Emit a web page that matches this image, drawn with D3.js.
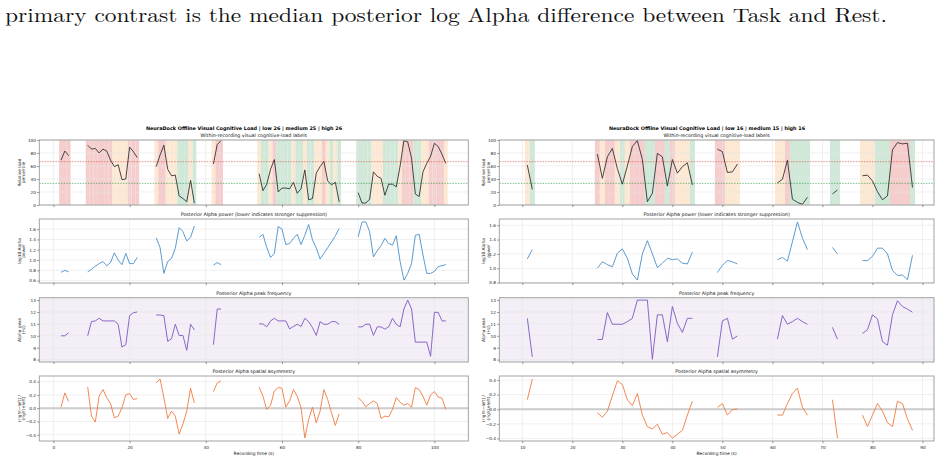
<!DOCTYPE html>
<html><head><meta charset="utf-8">
<script src="https://cdn.jsdelivr.net/npm/d3@7"></script>
<style>html,body{margin:0;padding:0;background:#fff}svg{display:block}</style>
</head><body>
<svg id="c" width="941" height="461"></svg>
<script>
// ---------------- data ----------------
const introText = "primary contrast is the median posterior log Alpha difference between Task and Rest.";
const suptitleLeft = "NeuraDock Offline Visual Cognitive Load | low 26 | medium 25 | high 26";
const suptitleRight = "NeuraDock Offline Visual Cognitive Load | low 16 | medium 15 | high 16";
const panelTitles = ["Within-recording visual cognitive-load labels",
  "Posterior Alpha power (lower indicates stronger suppression)",
  "Posterior Alpha peak frequency",
  "Posterior Alpha spatial asymmetry"];
const panelYLabels = [["Relative load", "percentile"], ["log10 Alpha", "power"], ["Alpha peak", "(Hz)"], ["(right\u2212left) /", "(right+left)"]];
const xLabel = "Recording time (s)";
const loadThresholds = [33.33, 66.67];
const labelNames = ["low", "medium", "high"];

const leftTime = [2,3,4, 9,10,11,12,13,14,15,16,17,18,19,20,21,22, 27,28,29,30,31,32,33,34,35,36,37, 42,43,44,
  54,55,56,57,58,59,60,61,62,63,64,65,66,67,68,69,70,71,72,73,74,75,
  80,81,82,83,84,85,86,87,88,89,90,91,92,93,94,95,96,97,98,99,100,101,102,103];
const leftLoad = [69,83,76, 92,86,87,80,86,83,69,59,62,39,40,89,82,73, 59,77,92,55,45,46,14,10,5,38,3, 63,93,99,
  48,22,32,55,70,20,26,26,25,35,18,25,54,8,10,49,59,67,37,31,35,5,
  19,3,3,9,51,44,41,15,32,32,28,60,99,97,72,17,13,51,64,75,95,90,78,64];
const leftPower = [0.76,0.80,0.77, 0.77,0.82,0.88,0.93,0.97,0.89,0.95,1.14,1.00,0.91,1.13,0.93,0.93,1.05,
  1.43,1.24,0.74,0.97,1.03,1.23,1.63,1.55,1.37,1.44,1.66, 0.90,0.95,0.91,
  1.44,1.50,1.24,1.05,1.13,1.65,1.60,1.30,1.32,1.42,1.50,1.30,1.48,1.69,1.39,1.23,1.02,1.13,1.24,1.35,1.47,1.61,
  1.45,1.74,1.74,1.55,1.06,1.18,1.28,1.42,1.32,1.29,1.47,0.97,0.61,0.74,0.93,1.48,1.50,1.10,0.74,0.74,0.78,0.87,0.89,0.91];
const leftPeak = [10.0,10.0,10.25, 10.0,11.2,11.25,11.47,11.25,11.25,11.25,11.25,10.97,9.06,9.25,11.69,11.94,12.0,
  11.75,11.75,11.69,9.53,9.75,10.97,10.03,10.03,8.78,10.97,10.5, 9.25,12.25,12.25,
  11.0,11.0,10.75,11.25,11.47,11.25,11.25,11.25,10.58,10.78,10.97,10.78,11.47,11.19,10.69,10.03,11.19,10.97,10.97,11.19,11.19,10.97,
  10.75,10.75,10.97,10.97,10.03,10.75,10.75,10.56,10.75,11.47,10.97,10.75,12.25,13.0,12.25,9.47,9.47,9.47,9.47,8.28,11.97,11.97,11.25,11.25];
const leftAsym = [0.015,0.23,0.10, 0.32,-0.12,-0.21,0.18,0.28,0.16,0.07,-0.145,-0.12,0.006,0.20,0.22,0.13,0.146,
  0.38,0.44,0.16,-0.155,-0.045,-0.12,-0.39,-0.24,-0.045,0.30,0.08, 0.25,0.38,0.41,
  0.32,0.18,-0.02,0.045,0.26,0.31,0.30,0.015,0.11,0.28,0.18,0.006,-0.45,-0.17,0.015,-0.22,-0.045,0.28,0.13,-0.07,-0.26,-0.085,
  0.16,0.10,0.02,0.07,0.11,0.07,-0.155,-0.12,-0.13,-0.02,0.16,0.09,0.045,0.07,0.015,0.31,0.28,0.18,0.045,0.20,0.25,0.17,0.15,-0.02];

const rightTime = [11,12, 25,26,27,28,29,30,31,32,33,34,35,36,37,38,39,40,41,42,43,44,
  49,50,51,52,53, 61,62,63,64,65,66,67, 72,73, 78,79,80,81,82,83,84,85,86,87,88];
const rightLoad = [61.5,24, 78.5,41,74,87,56,32,60,90,99,70,5,18,79.5,74,29,70,49,59,65,31,
  86,82,50,51,63, 34,39.5,69,9,4,1,12, 17,23, 45,46,37,20.5,8,14,85,96,94,95,27];
const rightPower = [1.13,1.26, 1.00,1.09,1.05,1.02,1.21,1.27,1.14,0.92,0.835,1.20,1.385,1.20,1.01,1.07,1.14,1.12,1.13,1.07,1.06,1.225,
  0.94,1.04,1.11,1.09,1.06, 1.12,1.15,1.10,1.37,1.646,1.42,1.26, 1.29,1.20,
  1.11,1.105,1.165,1.28,1.28,1.20,0.97,0.90,0.905,0.84,1.18];
const rightPeak = [11.47,8.23, 9.69,9.69,11.95,10.97,10.97,10.97,11.19,11.47,13.0,13.0,13.0,8.03,11.76,11.76,9.5,12.46,11.05,10.29,11.47,11.47,
  8.23,11.25,11.47,9.72,9.98, 9.72,11.7,10.97,11.19,11.47,11.19,10.97, 10.71,9.72,
  10.2,10.51,11.76,11.42,9.5,9.21,11.76,12.94,12.46,12.24,11.98];
const rightAsym = [0.13,0.415, -0.048,-0.11,-0.027,0.183,0.39,0.34,0.13,0.046,0.215,-0.08,-0.238,-0.27,-0.206,-0.343,-0.32,-0.395,-0.343,-0.29,-0.08,0.11,
  0.025,0.078,-0.08,-0.006,0.004, -0.08,-0.08,0.078,0.215,0.288,0.025,-0.08, 0.13,-0.395,
  -0.08,-0.238,-0.08,0.078,-0.027,-0.185,-0.238,0.11,0.078,-0.132,-0.29];

const leftXTicks = [0,20,40,60,80,100];
const rightXTicks = [10,20,30,40,50,60,70,80,90];
const loadTicks = [0,20,40,60,80,100];
const leftPowerTicks = [0.6,0.8,1.0,1.2,1.4,1.6];
const rightPowerTicks = [0.8,1.0,1.2,1.4,1.6];
const peakTicks = [8,9,10,11,12,13];
const leftAsymTicks = [-0.4,-0.2,0.0,0.2,0.4];
const rightAsymTicks = [-0.4,-0.2,0.0,0.2,0.4];

// ---------------- drawing ----------------
const FONT = "'DejaVu Sans', sans-serif";
const svg = d3.select("#c");
const bandColor = {low: "#cfe8d7", medium: "#fde8d3", high: "#f5cdcd"};
const lineColors = ["#333333", "#4a90cc", "#7e57c2", "#f07b3f"];
const panelY = [[140, 205], [219, 283], [297.7, 362], [376, 441]];

svg.append("text").attr("x", 5).attr("y", 22)
  .attr("font-family", "'Latin Modern Roman','Liberation Serif','DejaVu Serif',serif")
  .attr("font-size", 19.5).attr("textLength", 882).attr("lengthAdjust", "spacingAndGlyphs")
  .attr("fill", "#111").text(introText);

function padded(arr) {
  const [mn, mx] = d3.extent(arr); const d = (mx - mn) * 0.05; return [mn - d, mx + d];
}
function labelOf(v) { return v > loadThresholds[1] ? labelNames[2] : (v >= loadThresholds[0] ? labelNames[1] : labelNames[0]); }
function fmt(v, dec) { const s = v.toFixed(dec); return s.replace("-", "\u2212"); }

function drawFigure(cfg) {
  const g = svg.append("g");
  const x = d3.scaleLinear().domain(cfg.xDomain).range([cfg.x0, cfg.x1]);
  const cx = (cfg.x0 + cfg.x1) / 2;
  g.append("text").attr("x", cfg.titleX).attr("y", 129.6).attr("text-anchor", "middle")
    .attr("font-family", FONT).attr("font-weight", "bold").attr("font-size", 4.9).attr("fill", "#000").text(cfg.suptitle);

  const segs = []; let cur = [];
  cfg.time.forEach((t, i) => {
    if (cur.length && t - cfg.time[cur[cur.length - 1]] > 1.5) { segs.push(cur); cur = []; }
    cur.push(i);
  });
  segs.push(cur);

  const panels = [
    {vals: cfg.load, domain: [0, 100], ticks: loadTicks, dec: 0, bg: "#ffffff"},
    {vals: cfg.power, domain: padded(cfg.power), ticks: cfg.powerTicks, dec: 1, bg: "#ffffff"},
    {vals: cfg.peak, domain: [7.8, 13.2], ticks: peakTicks, dec: 0, bg: "#f4eff7"},
    {vals: cfg.asym, domain: padded(cfg.asym), ticks: cfg.asymTicks, dec: 1, bg: "#ffffff"}
  ];

  panels.forEach((p, k) => {
    const [top, bot] = panelY[k];
    const y = d3.scaleLinear().domain(p.domain).range([bot, top]);
    const pg = g.append("g");
    pg.append("rect").attr("x", cfg.x0).attr("y", top).attr("width", cfg.x1 - cfg.x0).attr("height", bot - top).attr("fill", p.bg);
    if (k === 0) {
      pg.selectAll("rect.band").data(cfg.time).enter().append("rect").attr("class", "band")
        .attr("x", t => x(t - 0.5)).attr("width", t => x(t + 0.5) - x(t - 0.5))
        .attr("y", y(100)).attr("height", y(0) - y(100))
        .attr("fill", (t, i) => bandColor[labelOf(cfg.load[i])]);
    }
    pg.selectAll("line.gx").data(cfg.xTicks).enter().append("line")
      .attr("x1", d => x(d)).attr("x2", d => x(d)).attr("y1", top).attr("y2", bot)
      .attr("stroke", "#e6e6e6").attr("stroke-width", 0.6);
    pg.selectAll("line.gy").data(p.ticks.filter(d => y(d) >= top && y(d) <= bot)).enter().append("line")
      .attr("x1", cfg.x0).attr("x2", cfg.x1).attr("y1", d => y(d)).attr("y2", d => y(d))
      .attr("stroke", "#e6e6e6").attr("stroke-width", 0.6);
    if (k === 0) {
      pg.append("line").attr("x1", cfg.x0).attr("x2", cfg.x1).attr("y1", y(loadThresholds[1])).attr("y2", y(loadThresholds[1]))
        .attr("stroke", "#e06060").attr("stroke-width", 0.7).attr("stroke-dasharray", "1.5,1.2");
      pg.append("line").attr("x1", cfg.x0).attr("x2", cfg.x1).attr("y1", y(loadThresholds[0])).attr("y2", y(loadThresholds[0]))
        .attr("stroke", "#40a060").attr("stroke-width", 0.7).attr("stroke-dasharray", "1.5,1.2");
    }
    if (k === 3) {
      pg.append("line").attr("x1", cfg.x0).attr("x2", cfg.x1).attr("y1", y(0)).attr("y2", y(0))
        .attr("stroke", "#cccccc").attr("stroke-width", 2);
    }
    const line = d3.line().x(i => x(cfg.time[i])).y(i => y(p.vals[i]));
    pg.selectAll("path.seg").data(segs).enter().append("path")
      .attr("d", line).attr("fill", "none").attr("stroke", lineColors[k]).attr("stroke-width", 0.9)
      .attr("stroke-linejoin", "round");
    pg.append("rect").attr("x", cfg.x0).attr("y", top).attr("width", cfg.x1 - cfg.x0).attr("height", bot - top)
      .attr("fill", "none").attr("stroke", "#9a9a9a").attr("stroke-width", 0.9);
    const ay = pg.append("g").attr("transform", `translate(${cfg.x0},0)`)
      .call(d3.axisLeft(y).tickValues(p.ticks.filter(d => y(d) >= top - 0.5 && y(d) <= bot + 0.5))
        .tickSize(2.2).tickPadding(1.2).tickFormat(d => fmt(d, p.dec)));
    const ax = pg.append("g").attr("transform", `translate(0,${bot})`)
      .call(d3.axisBottom(x).tickValues(cfg.xTicks).tickSize(2.2).tickPadding(2.5).tickFormat(d => k === 3 ? d : ""));
    [ay, ax].forEach(a => {
      a.select(".domain").remove();
      a.selectAll(".tick line").attr("stroke", "#555").attr("stroke-width", 0.6);
      a.selectAll(".tick text").attr("font-family", FONT).attr("font-size", 4.2).attr("fill", "#222");
    });
    pg.append("text").attr("x", cx).attr("y", top - 3).attr("text-anchor", "middle")
      .attr("font-family", FONT).attr("font-size", 4.8).attr("fill", "#111").text(panelTitles[k]);
    const ym = (top + bot) / 2;
    panelYLabels[k].forEach((s, j) => {
      pg.append("text").attr("transform", `translate(${cfg.ylabX[j]},${ym}) rotate(-90)`)
        .attr("text-anchor", "middle").attr("font-family", FONT).attr("font-size", 4.3).attr("fill", "#222").text(s);
    });
  });
  g.append("text").attr("x", cx).attr("y", 454.5).attr("text-anchor", "middle")
    .attr("font-family", FONT).attr("font-size", 4.4).attr("fill", "#111").text(xLabel);
}

drawFigure({suptitle: suptitleLeft, titleX: 244, x0: 39.3, x1: 468.3, xDomain: [-3.7, 108.9], xTicks: leftXTicks,
  ylabX: [20.5, 25], time: leftTime, load: leftLoad, power: leftPower, peak: leftPeak, asym: leftAsym,
  powerTicks: leftPowerTicks, asymTicks: leftAsymTicks});
drawFigure({suptitle: suptitleRight, titleX: 707, x0: 499.3, x1: 934, xDomain: [5.4, 92.3], xTicks: rightXTicks,
  ylabX: [485, 489.5], time: rightTime, load: rightLoad, power: rightPower, peak: rightPeak, asym: rightAsym,
  powerTicks: rightPowerTicks, asymTicks: rightAsymTicks});
</script>
</body></html>
